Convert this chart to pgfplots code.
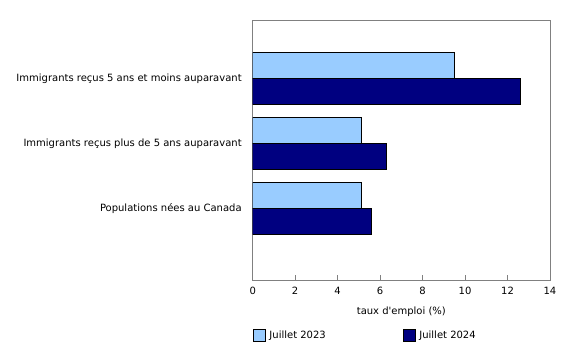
\documentclass[border=0pt]{standalone}
\usepackage{pgfplots}
\pgfplotsset{compat=1.18}
\usepackage{fontspec}
\setmainfont{DejaVu Sans}
\definecolor{lightb}{RGB}{153,204,255}
\definecolor{navyb}{RGB}{0,0,128}
\definecolor{axgray}{RGB}{128,128,128}
\begin{document}
\fontsize{10bp}{12bp}\selectfont
\begin{tikzpicture}
\useasboundingbox (-252.7bp,-65bp) rectangle (327.3bp,280bp);
\begin{axis}[
  at={(0,0)}, anchor=south west,
  scale only axis,
  width=297.3bp, height=260bp,
  xbar,
  xmin=0, xmax=14,
  xtick={0,2,...,14},
  xtick pos=bottom,
  tick align=inside,
  major tick length=5bp,
  ymin=-0.9, ymax=3.103,
  y dir=reverse,
  ytick={0,1,2},
  yticklabels={Immigrants reçus 5 ans et moins auparavant, Immigrants reçus plus de 5 ans auparavant, Populations nées au Canada},
  ytick style={draw=none},
  axis line style={axgray, line width=1bp},
  x tick style={axgray, line width=1bp},
  /pgf/number format/assume math mode=true,
  ticklabel style={font=\fontsize{10bp}{12bp}\selectfont, text=black},
  yticklabel style={xshift=-7.5bp},
  xticklabel style={yshift=-4bp},
  xlabel={taux d\textquotesingle emploi (\%)},
  xlabel style={at={(axis description cs:0.5,-0.123)}, anchor=center, font=\fontsize{10bp}{12bp}\selectfont, text=black},
  bar width=0.4,
  legend columns=2,
  legend style={at={(axis description cs:0,-0.2115)}, anchor=west, draw=none, inner sep=0pt,
    font=\fontsize{10bp}{12bp}\selectfont, text=black,
    /tikz/every odd column/.append style={column sep=2bp},
    /tikz/every even column/.append style={column sep=75bp}},
  legend image code/.code={\draw[#1, draw=black, line width=0.6bp] (0bp,-6bp) rectangle (12bp,6bp);},
]
\addplot[fill=lightb, draw=black, line width=0.7bp, bar shift=-0.2] coordinates {(9.5,0) (5.1,1) (5.1,2)};
\addplot[fill=navyb, draw=black, line width=0.7bp, bar shift=0.2] coordinates {(12.6,0) (6.3,1) (5.6,2)};
\legend{Juillet 2023, Juillet 2024}
\end{axis}
\end{tikzpicture}
\end{document}
